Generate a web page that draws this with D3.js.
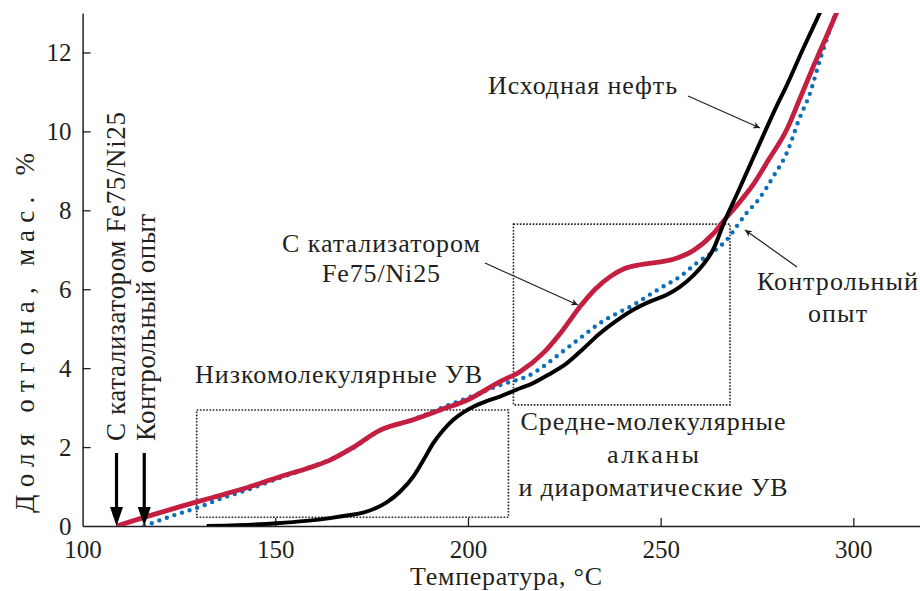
<!DOCTYPE html>
<html>
<head>
<meta charset="utf-8">
<script src="https://cdn.jsdelivr.net/npm/d3@7"></script>
</head>
<body style="margin:0">
<svg id="chart" width="920" height="591" style="font-family: 'Liberation Serif'"></svg>
<script>
// Distillation curves: temperature (°C) vs distilled fraction (wt. %)
const tempCatalyst = [108.8, 117, 125.3, 134, 142.6, 151.2, 158, 164.2, 170, 177.2, 185.8, 192.8, 200, 208.3, 213.5, 219.5, 224.5, 229.1, 233, 236.9, 240.5, 244.6, 249, 253.3, 258.5, 263.6, 266.5, 270, 274, 278, 282.7, 286, 289.6, 293, 296.5];
const fracCatalyst = [0, 0.25, 0.49, 0.73, 0.97, 1.25, 1.45, 1.67, 1.98, 2.43, 2.69, 2.94, 3.2, 3.66, 3.91, 4.38, 4.95, 5.56, 6.0, 6.32, 6.52, 6.62, 6.68, 6.76, 6.98, 7.4, 7.75, 8.15, 8.65, 9.28, 10.04, 10.8, 11.64, 12.4, 13.2];

const tempControl = [116.0, 123, 130.5, 136, 142.6, 151.2, 158, 164.2, 170, 177.2, 185.8, 192.8, 200, 208.3, 216.9, 221, 225.6, 230, 234.2, 238.5, 242.9, 246.5, 249.8, 255, 259.3, 263.6, 267.5, 269.7, 272.3, 275.3, 279.2, 282.7, 286.1, 288.7, 291.3, 294, 296];
const fracControl = [0, 0.25, 0.49, 0.7, 0.91, 1.22, 1.45, 1.68, 1.97, 2.42, 2.7, 2.98, 3.25, 3.57, 3.87, 4.15, 4.5, 4.83, 5.14, 5.38, 5.6, 5.82, 6.02, 6.32, 6.66, 6.95, 7.29, 7.59, 7.93, 8.26, 8.85, 9.45, 10.35, 10.95, 11.8, 12.6, 13.2];

const tempCrude = [132.2, 140, 150.4, 158, 164.2, 169, 172.8, 176, 178.9, 182.5, 185.8, 188.5, 191, 193.5, 196.2, 198.8, 201.4, 204.5, 208.3, 212.5, 216.9, 221, 225.6, 230, 234.2, 238.5, 242.9, 247, 251.6, 255, 258.5, 261, 263.6, 266.5, 270, 273.8, 277.1, 280, 282.6, 287, 291.3, 292.5];
const fracCrude = [0, 0.02, 0.07, 0.13, 0.2, 0.27, 0.34, 0.45, 0.6, 0.88, 1.25, 1.68, 2.1, 2.42, 2.69, 2.88, 3.02, 3.15, 3.28, 3.45, 3.62, 3.84, 4.12, 4.5, 4.88, 5.2, 5.48, 5.68, 5.86, 6.06, 6.35, 6.62, 7.0, 7.7, 8.45, 9.28, 10.0, 10.62, 11.14, 12.1, 13.0, 13.25];

const xTicks = [100, 150, 200, 250, 300];
const yTicks = [0, 2, 4, 6, 8, 10, 12];

// Highlighted regions: [tMin, tMax, fracMin, fracMax]
const lowBox = [129.6, 210.5, 0.22, 2.94];
const midBox = [211.8, 268.0, 3.07, 7.65];

const INK = "#231f20";

const svg = d3.select("#chart");
const x = d3.scaleLinear().domain([100, 317.3]).range([82.6, 920]);
const y = d3.scaleLinear().domain([0, 13]).range([526, 13]);

const defs = svg.append("defs");
defs.append("clipPath").attr("id", "plot")
  .append("rect").attr("x", 82.6).attr("y", 13).attr("width", 920 - 82.6).attr("height", 513);

const marker = defs.append("marker")
  .attr("id", "head").attr("viewBox", "0 0 10 10").attr("refX", 10).attr("refY", 5)
  .attr("markerWidth", 9).attr("markerHeight", 7).attr("markerUnits", "userSpaceOnUse")
  .attr("orient", "auto");
marker.append("path").attr("d", "M0,0 L10,5 L0,10 L3,5 Z").attr("fill", INK);

// Dotted region boxes
[lowBox, midBox].forEach(b => {
  svg.append("rect")
    .attr("x", x(b[0])).attr("y", y(b[3]))
    .attr("width", x(b[1]) - x(b[0])).attr("height", y(b[2]) - y(b[3]))
    .attr("fill", "none").attr("stroke", INK)
    .attr("stroke-width", 1.6).attr("stroke-dasharray", "1.6,1.6");
});

// Serif label helper applied to every text node
const serif = (sel, size) => sel.attr("font-size", size)
  .style("font-family", "\"Liberation Serif\"").attr("fill", INK);

// Axes
const xAxis = svg.append("g").attr("transform", "translate(0,526)")
  .call(d3.axisBottom(x).tickValues(xTicks).tickSizeInner(-8).tickSizeOuter(0).tickPadding(14));
const yAxis = svg.append("g").attr("transform", "translate(82.6,0)")
  .call(d3.axisLeft(y).tickValues(yTicks).tickSizeInner(-8).tickSizeOuter(0).tickPadding(11));
[xAxis, yAxis].forEach(a => {
  a.attr("font-family", null).attr("font-size", null);
  a.select(".domain").attr("stroke", INK).attr("stroke-width", 1.5);
  a.selectAll(".tick line").attr("stroke", INK).attr("stroke-width", 1.3);
  serif(a.selectAll(".tick text"), 25);
});
xAxis.selectAll(".tick").filter(d => d === 100).select("line").remove();
yAxis.selectAll(".tick").filter(d => d === 0).select("line").remove();

// Curves
const line = d3.line().x(d => x(d[0])).y(d => y(d[1])).curve(d3.curveMonotoneX);
const plot = svg.append("g").attr("clip-path", "url(#plot)");
const zip = (a, b) => a.map((v, i) => [v, b[i]]);

plot.append("path").datum(zip(tempControl, fracControl)).attr("d", line)
  .attr("fill", "none").attr("stroke", "#0a6fb8").attr("stroke-width", 4.4)
  .attr("stroke-linecap", "round").attr("stroke-dasharray", "0,8");
plot.append("path").datum(zip(tempCatalyst, fracCatalyst)).attr("d", line)
  .attr("fill", "none").attr("stroke", "#c41f40").attr("stroke-width", 4.8);
plot.append("path").datum(zip(tempCrude, fracCrude)).attr("d", line)
  .attr("fill", "none").attr("stroke", "#000").attr("stroke-width", 4);

// Onset arrows
[tempCatalyst[0], tempControl[0]].forEach(t => {
  const cx = x(t);
  svg.append("line").attr("x1", cx).attr("x2", cx).attr("y1", 453).attr("y2", 510)
    .attr("stroke", "#000").attr("stroke-width", 3.2);
  svg.append("path").attr("d", `M${cx - 6.5},${507} L${cx + 6.5},${507} L${cx},${526} Z`).attr("fill", "#000");
});

// Text labels, each set to its run length
const hText = (tx, ty, s, anchor, len) => serif(svg.append("text").attr("x", tx).attr("y", ty)
  .attr("text-anchor", anchor || "start")
  .attr("textLength", len).attr("lengthAdjust", "spacing").text(s), 26);

hText(488, 94, "Исходная нефть", "start", 189);
hText(381, 252, "С катализатором", "middle", 198);
hText(381, 282, "Fe75/Ni25", "middle", 118);
hText(195, 383, "Низкомолекулярные УВ", "start", 287);
hText(653, 430, "Средне-молекулярные", "middle", 265);
hText(653, 463, "алканы", "middle", 92);
hText(653, 496, "и диароматические УВ", "middle", 269);
hText(837.5, 290, "Контрольный", "middle", 161);
hText(837.5, 322, "опыт", "middle", 59);
hText(506, 585, "Температура, °С", "middle", 192);

const vText = (tx, ty, s, anchor, len) => serif(svg.append("text")
  .attr("transform", `translate(${tx},${ty}) rotate(-90)`)
  .attr("text-anchor", anchor || "start")
  .attr("textLength", len).attr("lengthAdjust", "spacing").text(s), 27);
vText(34, 333, "Доля отгона, мас. %", "middle", 360);
vText(125, 441, "С катализатором Fe75/Ni25", "start", 329);
vText(155, 441, "Контрольный опыт", "start", 227);

// Pointer arrows to curves
const pointer = (x1, y1, x2, y2) => svg.append("line")
  .attr("x1", x1).attr("y1", y1).attr("x2", x2).attr("y2", y2)
  .attr("stroke", INK).attr("stroke-width", 1.2).attr("marker-end", "url(#head)");
pointer(688, 96, 760, 128);
pointer(485, 263, 578, 305);
pointer(797, 267, 745, 230);
</script>
</body>
</html>
